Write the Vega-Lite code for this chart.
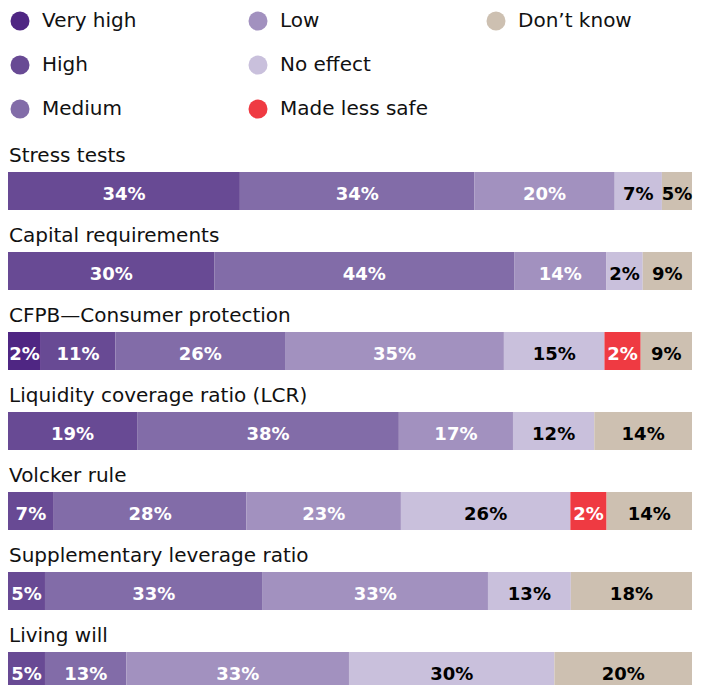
{
  "$schema": "https://vega.github.io/schema/vega-lite/v6.json",
  "width": 706,
  "height": 685,
  "autosize": {"type": "none"},
  "padding": 0,
  "background": "white",
  "config": {"view": {"stroke": null}},
  "datasets": {
    "items": [
      {"item": "Stress tests"},
      {"item": "Capital requirements"},
      {"item": "CFPB—Consumer protection"},
      {"item": "Liquidity coverage ratio (LCR)"},
      {"item": "Volcker rule"},
      {"item": "Supplementary leverage ratio"},
      {"item": "Living will"}
    ],
    "bars": [
      {"item": "Stress tests", "cat": "High", "k": 2, "label": "34%", "share": 33.9},
      {"item": "Stress tests", "cat": "Medium", "k": 3, "label": "34%", "share": 34.3},
      {"item": "Stress tests", "cat": "Low", "k": 4, "label": "20%", "share": 20.5},
      {"item": "Stress tests", "cat": "No effect", "k": 5, "label": "7%", "share": 6.9},
      {"item": "Stress tests", "cat": "Don’t know", "k": 7, "label": "5%", "share": 4.4},

      {"item": "Capital requirements", "cat": "High", "k": 2, "label": "30%", "share": 30.2},
      {"item": "Capital requirements", "cat": "Medium", "k": 3, "label": "44%", "share": 43.8},
      {"item": "Capital requirements", "cat": "Low", "k": 4, "label": "14%", "share": 13.5},
      {"item": "Capital requirements", "cat": "No effect", "k": 5, "label": "2%", "share": 5.3},
      {"item": "Capital requirements", "cat": "Don’t know", "k": 7, "label": "9%", "share": 7.2},

      {"item": "CFPB—Consumer protection", "cat": "Very high", "k": 1, "label": "2%", "share": 4.8},
      {"item": "CFPB—Consumer protection", "cat": "High", "k": 2, "label": "11%", "share": 10.9},
      {"item": "CFPB—Consumer protection", "cat": "Medium", "k": 3, "label": "26%", "share": 24.8},
      {"item": "CFPB—Consumer protection", "cat": "Low", "k": 4, "label": "35%", "share": 32.0},
      {"item": "CFPB—Consumer protection", "cat": "No effect", "k": 5, "label": "15%", "share": 14.7},
      {"item": "CFPB—Consumer protection", "cat": "Made less safe", "k": 6, "label": "2%", "share": 5.3},
      {"item": "CFPB—Consumer protection", "cat": "Don’t know", "k": 7, "label": "9%", "share": 7.5},

      {"item": "Liquidity coverage ratio (LCR)", "cat": "High", "k": 2, "label": "19%", "share": 18.9},
      {"item": "Liquidity coverage ratio (LCR)", "cat": "Medium", "k": 3, "label": "38%", "share": 38.3},
      {"item": "Liquidity coverage ratio (LCR)", "cat": "Low", "k": 4, "label": "17%", "share": 16.7},
      {"item": "Liquidity coverage ratio (LCR)", "cat": "No effect", "k": 5, "label": "12%", "share": 11.9},
      {"item": "Liquidity coverage ratio (LCR)", "cat": "Don’t know", "k": 7, "label": "14%", "share": 14.3},

      {"item": "Volcker rule", "cat": "High", "k": 2, "label": "7%", "share": 6.7},
      {"item": "Volcker rule", "cat": "Medium", "k": 3, "label": "28%", "share": 28.2},
      {"item": "Volcker rule", "cat": "Low", "k": 4, "label": "23%", "share": 22.6},
      {"item": "Volcker rule", "cat": "No effect", "k": 5, "label": "26%", "share": 24.8},
      {"item": "Volcker rule", "cat": "Made less safe", "k": 6, "label": "2%", "share": 5.3},
      {"item": "Volcker rule", "cat": "Don’t know", "k": 7, "label": "14%", "share": 12.5},

      {"item": "Supplementary leverage ratio", "cat": "High", "k": 2, "label": "5%", "share": 5.4},
      {"item": "Supplementary leverage ratio", "cat": "Medium", "k": 3, "label": "33%", "share": 31.8},
      {"item": "Supplementary leverage ratio", "cat": "Low", "k": 4, "label": "33%", "share": 32.9},
      {"item": "Supplementary leverage ratio", "cat": "No effect", "k": 5, "label": "13%", "share": 12.1},
      {"item": "Supplementary leverage ratio", "cat": "Don’t know", "k": 7, "label": "18%", "share": 17.7},

      {"item": "Living will", "cat": "High", "k": 2, "label": "5%", "share": 5.4},
      {"item": "Living will", "cat": "Medium", "k": 3, "label": "13%", "share": 11.9},
      {"item": "Living will", "cat": "Low", "k": 4, "label": "33%", "share": 32.5},
      {"item": "Living will", "cat": "No effect", "k": 5, "label": "30%", "share": 30.0},
      {"item": "Living will", "cat": "Don’t know", "k": 7, "label": "20%", "share": 20.1}
    ]
  },
  "layer": [
    {
      "data": {"name": "bars"},
      "transform": [
        {"stack": "share", "groupby": ["item"], "sort": [{"field": "k"}], "as": ["x0", "x1"], "offset": "normalize"},
        {"calculate": "(datum.x0 + datum.x1) / 2", "as": "xmid"}
      ],
      "layer": [
        {
          "mark": {"type": "bar", "height": 38},
          "encoding": {
            "x": {"field": "x0", "type": "quantitative", "scale": {"domain": [0, 1], "range": [8, 692], "nice": false, "zero": false}, "axis": null},
            "x2": {"field": "x1"},
            "y": {"field": "item", "type": "nominal", "sort": ["Stress tests", "Capital requirements", "CFPB—Consumer protection", "Liquidity coverage ratio (LCR)", "Volcker rule", "Supplementary leverage ratio", "Living will"], "scale": {"range": [151, 711], "paddingInner": 0, "paddingOuter": 0}, "axis": null},
            "color": {
              "field": "cat",
              "type": "nominal",
              "scale": {
                "domain": ["Very high", "High", "Medium", "Low", "No effect", "Made less safe", "Don’t know", "_"],
                "range": ["#4f2683", "#684a94", "#826ca8", "#a291bf", "#c9c0dc", "#ef3a42", "#cdc0b1", "rgba(0,0,0,0)"]
              },
              "legend": {
                "orient": "none",
                "legendX": 10,
                "legendY": 11,
                "columns": 3,
                "gridAlign": "all",
                "columnPadding": 58,
                "rowPadding": 24,
                "padding": 0,
                "title": null,
                "symbolType": "circle",
                "symbolSize": 361,
                "symbolStrokeWidth": 0,
                "symbolOpacity": 1,
                "labelFont": "DejaVu Sans",
                "labelFontSize": 20,
                "labelColor": "#111111",
                "labelOffset": 12,
                "labelLimit": 400,
                "labelExpr": "datum.label === '_' ? '' : datum.label"
              }
            }
          }
        },
        {
          "mark": {"type": "text", "font": "DejaVu Sans", "fontWeight": "bold", "fontSize": 18, "baseline": "alphabetic", "align": "center", "dy": 9},
          "encoding": {
            "x": {"field": "xmid", "type": "quantitative"},
            "y": {"field": "item", "type": "nominal", "sort": ["Stress tests", "Capital requirements", "CFPB—Consumer protection", "Liquidity coverage ratio (LCR)", "Volcker rule", "Supplementary leverage ratio", "Living will"]},
            "text": {"field": "label"},
            "color": {
              "condition": {"test": "datum.cat === 'No effect' || datum.cat === 'Don’t know'", "value": "#000000"},
              "value": "#ffffff"
            }
          }
        }
      ]
    },
    {
      "data": {"name": "items"},
      "mark": {"type": "text", "font": "DejaVu Sans", "fontSize": 20, "baseline": "alphabetic", "align": "left", "dy": -29, "dx": 1, "color": "#111111"},
      "encoding": {
        "x": {"datum": 0, "type": "quantitative"},
        "y": {"field": "item", "type": "nominal", "sort": ["Stress tests", "Capital requirements", "CFPB—Consumer protection", "Liquidity coverage ratio (LCR)", "Volcker rule", "Supplementary leverage ratio", "Living will"]},
        "text": {"field": "item"}
      }
    }
  ]
}
